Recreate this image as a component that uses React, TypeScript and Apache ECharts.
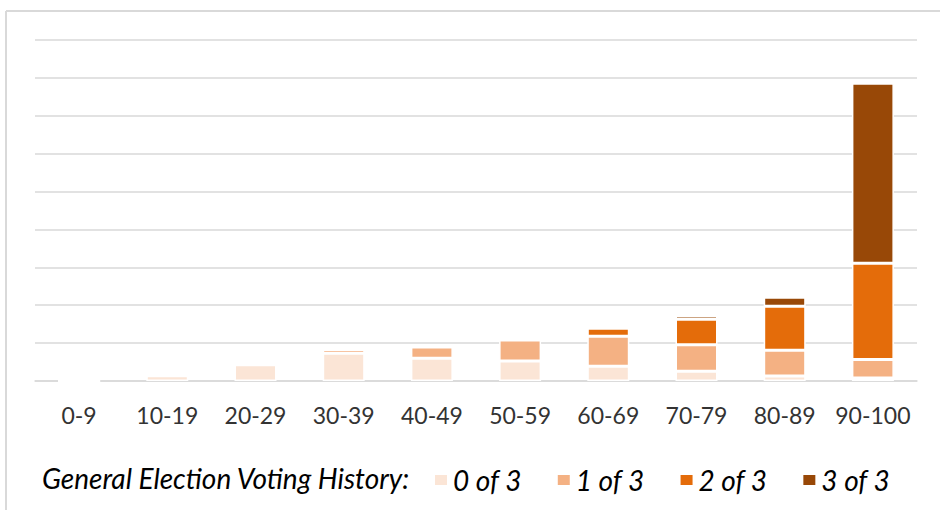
import React, { useEffect, useRef } from "react";
import * as echarts from "echarts";

const categories = ["0-9", "10-19", "20-29", "30-39", "40-49", "50-59", "60-69", "70-79", "80-89", "90-100"];
const seriesNames = ["0 of 3", "1 of 3", "2 of 3", "3 of 3"];
const zeroOf3 = [0, 0.14, 0.43, 0.73, 0.6, 0.53, 0.39, 0.26, 0.13, 0.08];
const oneOf3 = [0, 0, 0, 0.1, 0.3, 0.55, 0.79, 0.7, 0.68, 0.49];
const twoOf3 = [0, 0, 0, 0, 0, 0, 0.21, 0.67, 1.16, 2.54];
const threeOf3 = [0, 0, 0, 0, 0, 0, 0, 0.09, 0.24, 4.75];
const colors = ["#FBE5D6", "#F4B183", "#E46C0A", "#984807"];
const legendTitle = "General Election Voting History:";

export default function App() {
  const ref = useRef<HTMLDivElement>(null);
  useEffect(() => {
    if (!ref.current) return;
    const chart = echarts.init(ref.current, undefined, { renderer: "svg" });
    const values = [zeroOf3, oneOf3, twoOf3, threeOf3];
    const font = "Lato, 'Open Sans', sans-serif";
    chart.setOption({
      animation: false,
      backgroundColor: "#ffffff",
      grid: { left: 35, right: 23, top: 40, bottom: 129, containLabel: false },
      xAxis: {
        type: "category",
        data: categories,
        axisLine: { show: true, lineStyle: { color: "#D9D9D9", width: 1.5 } },
        axisTick: { show: false },
        axisLabel: { color: "#333333", fontSize: 23, fontFamily: font, margin: 22, interval: 0 },
      },
      yAxis: {
        type: "value",
        min: 0,
        max: 9,
        interval: 1,
        axisLabel: { show: false },
        axisLine: { show: false },
        axisTick: { show: false },
        splitLine: { lineStyle: { color: "#D9D9D9", width: 1.5 } },
      },
      legend: {
        left: 428,
        top: 461,
        itemWidth: 14,
        itemHeight: 12,
        itemGap: 34,
        icon: "rect",
        textStyle: { fontSize: 28, fontStyle: "italic", fontFamily: font, color: "#000000" },
        data: seriesNames,
      },
      graphic: [
        {
          type: "text",
          x: 42,
          y: 478,
          style: {
            text: legendTitle,
            fontSize: 28,
            fontStyle: "italic",
            fontFamily: font,
            fill: "#000000",
            verticalAlign: "middle",
          },
        },
        { type: "line", shape: { x1: 6, y1: 11, x2: 940, y2: 11 }, style: { stroke: "#D9D9D9", lineWidth: 2 } },
        { type: "line", shape: { x1: 6, y1: 11, x2: 6, y2: 510 }, style: { stroke: "#D9D9D9", lineWidth: 2 } },
      ],
      series: seriesNames.map((name, i) => ({
        name,
        type: "bar",
        stack: "total",
        barWidth: 42,
        data: values[i],
        itemStyle: { color: colors[i], borderColor: "#ffffff", borderWidth: 1.5 },
      })),
    });
    return () => chart.dispose();
  }, []);
  return <div ref={ref} style={{ position: "fixed", left: 0, top: 0, width: 940, height: 510 }} />;
}
